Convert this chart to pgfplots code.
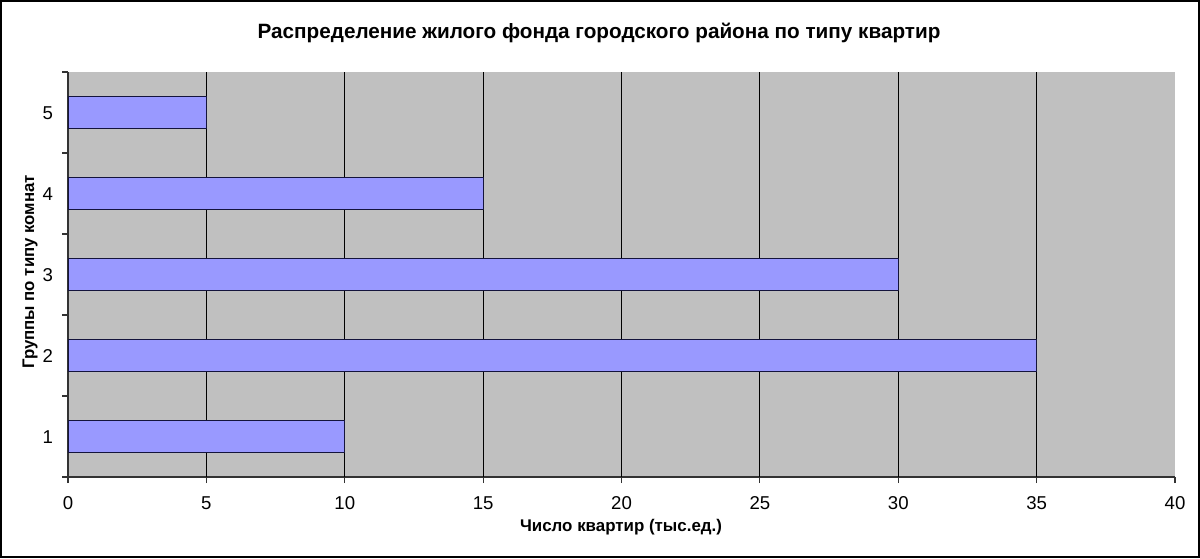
\documentclass[border=0pt]{standalone}
\usepackage{fontspec}
\setmainfont{Liberation Sans}
\usepackage{pgfplots}
\pgfplotsset{compat=1.18}
\definecolor{plotgray}{RGB}{192,192,192}
\definecolor{barblue}{RGB}{153,153,255}
\definecolor{bardraw}{RGB}{20,20,60}
\begin{document}
\begin{tikzpicture}
\path[use as bounding box] (0,0) rectangle (600pt,279pt);
\draw[line width=0.8pt] (0.4pt,0.4pt) rectangle (599.6pt,278.6pt);
\begin{axis}[
  at={(34pt,40.5pt)}, anchor=south west,
  scale only axis, width=553.5pt, height=202.5pt,
  xbar, bar width=15.75pt,
  xmin=0, xmax=40, ymin=0.5, ymax=5.5,
  xtick={0,5,...,40},
  ytick={1,2,3,4,5},
  minor ytick={0.5,1.5,...,5.5},
  extra x ticks={5,10,...,35},
  extra x tick labels={},
  extra x tick style={grid=major, major tick length=0pt},
  major grid style={black, line width=0.6pt},
  axis x line*=bottom, axis y line*=left,
  axis line style={black!80, line width=0.7pt, -},
  tick align=outside,
  major tick length=3pt, minor tick length=3pt,
  major y tick style={draw=none},
  tick style={black!80, line width=0.6pt},
  axis background/.style={fill=plotgray},
  /pgf/number format/assume math mode=true,
  tick label style={font=\fontsize{9.3}{11}\selectfont, text height=6.8pt, text depth=0pt},
  xticklabel style={yshift=-3pt},
  yticklabel style={xshift=-1pt},
  clip=false,
]
\addplot[fill=barblue, draw=bardraw, line width=0.5pt] coordinates {(10,1) (35,2) (30,3) (15,4) (5,5)};
\end{axis}
\node[font=\bfseries\fontsize{10.35}{12}\selectfont] at (299.5pt,262.5pt) {Распределение жилого фонда городского района по типу квартир};
\node[font=\bfseries\fontsize{8.45}{10}\selectfont] at (310.5pt,15.5pt) {Число квартир (тыс.ед.)};
\node[font=\bfseries\fontsize{8.4}{10}\selectfont, rotate=90] at (15pt,143pt) {Группы по типу комнат};
\end{tikzpicture}
\end{document}
